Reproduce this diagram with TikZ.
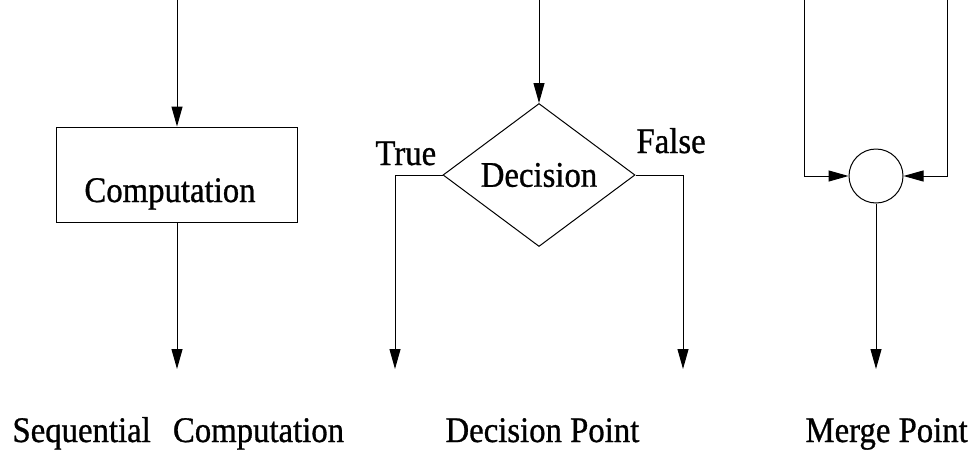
\documentclass[tikz,border=0pt]{standalone}
\usepackage{fontspec}
\setmainfont{Liberation Serif}[FakeStretch=0.91,FakeBold=0.8]
\usetikzlibrary{arrows.meta,shapes.geometric}
\begin{document}
\begin{tikzpicture}[x=1pt,y=-1pt,line width=1pt,
  lbl/.style={font=\fontsize{36}{42}\selectfont,inner sep=0pt},
  flow/.style={-{Triangle[length=20pt,width=11pt]}},
  boxnode/.style={draw,minimum width=241pt,minimum height=95pt,inner sep=0pt},
  decnode/.style={draw,diamond,minimum width=192pt,minimum height=143pt,inner sep=0pt,font=\fontsize{36}{42}\selectfont},
  mergenode/.style={draw,circle,minimum size=54pt,inner sep=0pt}]
\useasboundingbox (0,0) rectangle (976,450);
% Sequential computation
\coordinate (t1) at (177,0);
\coordinate (b1) at (177,369);
\node[boxnode] (comp) at (177,174.5) {};
\node[lbl,anchor=base] (comptext) at (170,202) {Computation};
\draw[flow] (t1) -- (comp.north);
\draw[flow] (comp.south) -- (b1);
% Decision
\coordinate (t2) at (539,0);
\coordinate (b2) at (395,369);
\coordinate (b3) at (683,369);
\node[decnode] (dec) at (539,175) {Decision};
\draw[flow] (t2) -- (dec.north);
\draw[flow] (dec.west) -| (b2);
\draw[flow] (dec.east) -| (b3);
\node[lbl,anchor=base west] (true) at (375,165) {True};
\node[lbl,anchor=base west] (false) at (636,153) {False};
% Merge
\coordinate (t3) at (804,0);
\coordinate (t4) at (947,0);
\coordinate (b4) at (876,369);
\node[mergenode] (merge) at (876,176) {};
\draw[flow] (t3) |- (merge.west);
\draw[flow] (t4) |- (merge.east);
\draw[flow] (merge.south) -- (b4);
% captions
\node[lbl,anchor=base west] (cap1) at (12,442) {Sequential\hspace{14pt} Computation};
\node[lbl,anchor=base west] (cap2) at (445,442) {Decision Point};
\node[lbl,anchor=base west] (cap3) at (805,442) {Merge Point};
\end{tikzpicture}
\end{document}
